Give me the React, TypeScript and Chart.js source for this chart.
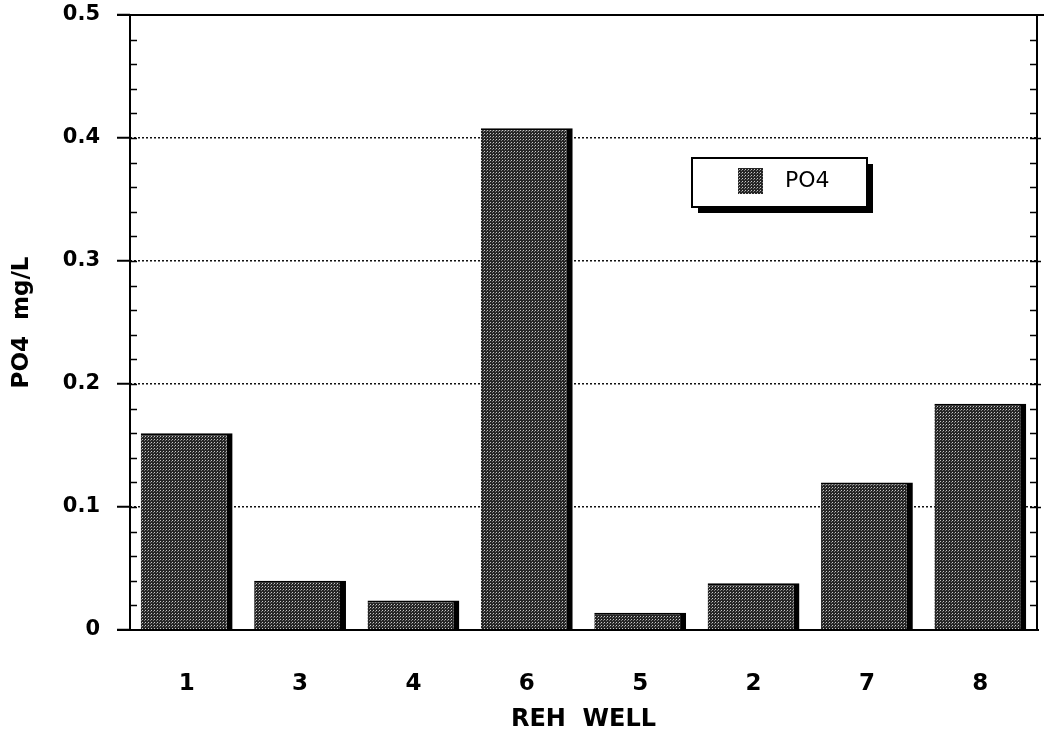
import React, { useEffect, useRef } from 'react';
import { Chart, registerables } from 'chart.js';

Chart.register(...registerables);

const wells = ['1', '3', '4', '6', '5', '2', '7', '8'];
const po4 = [0.16, 0.04, 0.024, 0.408, 0.014, 0.038, 0.12, 0.184];
const yTickValues = [0, 0.1, 0.2, 0.3, 0.4, 0.5];
const minorStep = 0.02;
const seriesLabel = 'PO4';
const xTitle = 'REH  WELL';
const yTitle = 'PO4  mg/L';

const FONT = "'DejaVu Sans', 'Liberation Sans', Arial, sans-serif";

function makePattern(): CanvasPattern | string {
  const c = document.createElement('canvas');
  c.width = 3;
  c.height = 3;
  const g = c.getContext('2d');
  if (!g) return '#555';
  g.fillStyle = '#262626';
  g.fillRect(0, 0, 3, 3);
  g.fillStyle = '#c8c8c8';
  g.fillRect(1, 1, 1, 1);
  g.fillStyle = '#7a7a7a';
  g.fillRect(0, 2, 1, 1);
  const p = g.createPattern(c, 'repeat');
  return p || '#555';
}

export default function App() {
  const ref = useRef<HTMLCanvasElement | null>(null);

  useEffect(() => {
    if (!ref.current) return;
    const pattern = makePattern();

    const framePlugin = {
      id: 'frameAndLegend',
      afterDraw(chart: any) {
        const { ctx, chartArea } = chart;
        const { left, right, top, bottom } = chartArea;
        const yScale = chart.scales.y;
        ctx.save();
        // frame
        ctx.strokeStyle = '#000';
        ctx.lineWidth = 2;
        ctx.beginPath();
        ctx.moveTo(left - 13, top);
        ctx.lineTo(right + 7, top);
        ctx.moveTo(left, top);
        ctx.lineTo(left, bottom);
        ctx.moveTo(left - 13, bottom);
        ctx.lineTo(right + 2, bottom);
        ctx.moveTo(right, top);
        ctx.lineTo(right, bottom);
        ctx.stroke();
        // minor ticks
        ctx.lineWidth = 1.5;
        ctx.beginPath();
        const min = yScale.min;
        const max = yScale.max;
        const n = Math.round((max - min) / minorStep);
        for (let i = 1; i < n; i++) {
          const v = min + i * minorStep;
          const y = Math.round(yScale.getPixelForValue(v)) + 0.5;
          const isMajor = Math.abs(v * 10 - Math.round(v * 10)) < 1e-6;
          ctx.moveTo(left, y);
          ctx.lineTo(left + 7, y);
          ctx.moveTo(right - 7, y);
          ctx.lineTo(right + (isMajor ? 4 : 0), y);
        }
        ctx.stroke();

        // legend box
        const bx = left + 562;
        const by = top + 143;
        const bw = 175;
        const bh = 49;
        ctx.fillStyle = '#000';
        ctx.fillRect(bx + 6, by + 6, bw, bh);
        ctx.fillStyle = '#fff';
        ctx.fillRect(bx, by, bw, bh);
        ctx.lineWidth = 2;
        ctx.strokeStyle = '#000';
        ctx.strokeRect(bx, by, bw, bh);
        ctx.fillStyle = pattern as any;
        ctx.fillRect(bx + 46, by + 10, 25, 26);
        ctx.fillStyle = '#000';
        ctx.font = `22px ${FONT}`;
        ctx.textBaseline = 'middle';
        ctx.textAlign = 'left';
        ctx.fillText(chart.data.datasets[0].label, bx + 93, by + 23);
        ctx.restore();
      },
    };

    const chart = new Chart(ref.current, {
      type: 'bar',
      data: {
        labels: wells,
        datasets: [
          {
            label: seriesLabel,
            data: po4,
            backgroundColor: pattern as any,
            borderColor: '#000',
            borderWidth: { top: 2, right: 6, left: 0, bottom: 0 } as any,
            borderSkipped: false,
            barPercentage: 0.81,
            categoryPercentage: 1,
          },
        ],
      },
      options: {
        responsive: false,
        animation: false,
        layout: { padding: { top: 15, right: 7, left: 0, bottom: 0 } },
        plugins: {
          legend: { display: false },
          tooltip: { enabled: false },
        },
        scales: {
          x: {
            grid: { display: false, drawTicks: false },
            border: { display: false },
            ticks: {
              color: '#000',
              padding: 40,
              font: { family: FONT, size: 23, weight: 'bold' },
            },
            title: {
              display: true,
              text: xTitle,
              color: '#000',
              font: { family: FONT, size: 24, weight: 'bold' },
              padding: { top: 2, bottom: 0 },
            },
            afterFit: (s: any) => {
              s.height = 104;
            },
          },
          y: {
            min: 0,
            max: 0.5,
            afterBuildTicks: (s: any) => {
              s.ticks = yTickValues.map((v) => ({ value: v }));
            },
            ticks: {
              color: '#000',
              padding: 17,
              font: { family: FONT, size: 21, weight: 'bold' },
              callback: (v: any) => (Number(v) === 0 ? '0' : Number(v).toFixed(1)),
            },
            grid: {
              color: (c: any) =>
                c.tick && c.tick.value > 0.001 && c.tick.value < 0.499 ? '#111' : 'rgba(0,0,0,0)',
              lineWidth: 1.5,
              tickLength: 13,
              tickColor: '#000',
              tickWidth: 2,
            },
            border: { display: false, dash: [2, 2] },
            title: {
              display: true,
              text: yTitle,
              color: '#000',
              font: { family: FONT, size: 23, weight: 'bold' },
              padding: { top: 8, bottom: 0 },
            },
            afterFit: (s: any) => {
              s.width = 130;
              s.paddingTop = 0;
            },
          },
        },
      },
      plugins: [framePlugin],
    });

    return () => chart.destroy();
  }, []);

  return (
    <div style={{ position: 'absolute', left: 0, top: 0, width: 1044, height: 734, background: '#fff' }}>
      <canvas ref={ref} width={1044} height={734} style={{ width: 1044, height: 734 }} />
    </div>
  );
}
